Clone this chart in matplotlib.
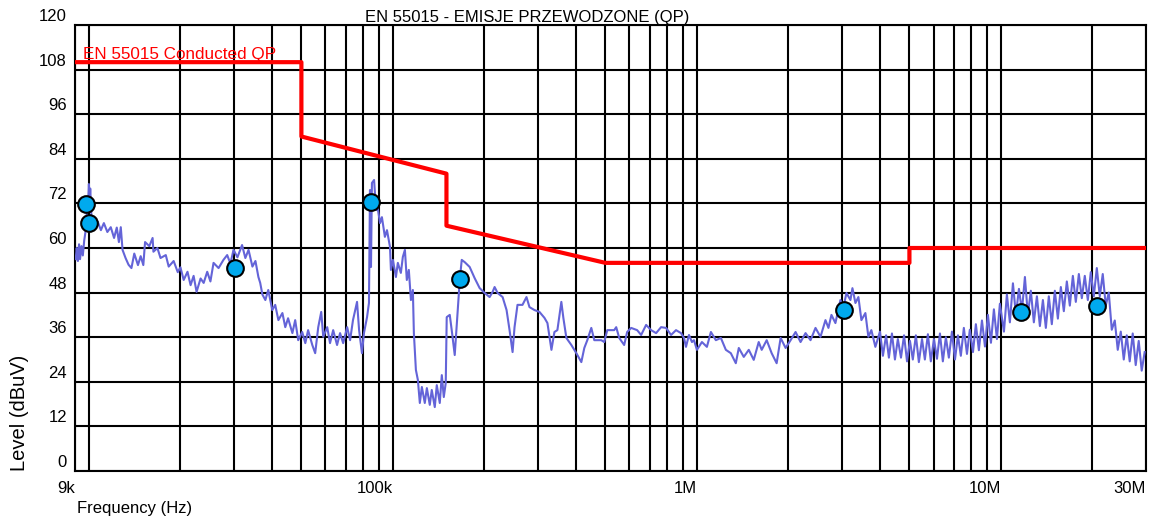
import numpy as np
import matplotlib
matplotlib.use("Agg")
import matplotlib.pyplot as plt
from matplotlib import transforms as mtransforms
from matplotlib.ticker import LogLocator, NullFormatter

plt.rcParams['font.family'] = ['Liberation Sans', 'DejaVu Sans']

# limit line EN 55015 (QP)
limit_khz = [9, 50, 50, 150, 150, 500, 500, 5000, 5000, 30000]
limit_dbuv = [110, 110, 90, 80, 66, 56, 56, 56, 60, 60]

# measured peaks (QP)
peak_khz = [9.78, 10.0, 30.2, 84.7, 165.9, 3050, 11660, 20700]
peak_dbuv = [71.8, 66.8, 54.5, 72.3, 51.7, 43.3, 42.9, 44.4]

# scan trace: (kHz, dBuV)
trace_points = [
    (9.05, 57), (9.12, 60), (9.2, 56.5), (9.28, 61), (9.35, 57), (9.45, 60.5),
    (9.55, 58), (9.65, 62), (9.75, 64.5), (9.85, 70), (9.95, 73), (10.0, 77.2),
    (10.05, 72), (10.1, 76), (10.2, 68), (10.3, 66),
    (10.5, 67.5), (10.7, 67), (10.95, 64.8), (11.2, 66.7), (11.5, 64.3), (11.8, 65.6),
    (12.1, 62.7), (12.35, 65.5), (12.55, 61.6), (12.73, 65.6), (12.9, 59.5), (13.2, 57.3),
    (13.5, 55.5), (13.8, 54.6), (14.1, 58.5), (14.5, 55.4), (14.8, 57.8), (15.1, 55.4),
    (15.3, 61.6), (15.8, 60.5), (16.2, 62.7), (16.3, 59), (16.8, 60), (17.2, 57.3),
    (17.9, 58.1), (18.3, 55), (19.0, 56.5), (19.6, 53.5), (20.0, 54.8), (20.5, 51.4),
    (21.1, 53.6), (21.6, 50), (22.1, 52.5), (22.6, 48.2), (23.3, 51.8), (23.85, 50.6),
    (24.5, 53.6), (25.1, 51), (25.7, 56), (26.7, 54.6), (27.7, 56.8), (28.5, 58.1),
    (29.2, 55.8), (29.9, 59.5), (30.8, 57.5), (31.9, 60.8), (32.7, 57.3), (33.5, 59.5),
    (34.5, 55), (35.3, 56.5), (36.1, 52.2), (36.6, 50.6), (37.2, 47.5), (38.05, 46),
    (38.9, 48.7),
    (40.1, 43.3), (41.0, 44.7), (42.0, 40.6), (43.3, 42.5), (44.25, 38.7), (45.2, 41.1),
    (46.7, 37.1), (47.7, 40.6), (48.8, 35.2), (50.3, 37.4), (51.5, 34.4), (52.6, 37.9),
    (54.3, 33.9), (55.5, 31.7), (56.8, 38.7), (58.1, 42.8), (59.0, 36.1), (60.8, 38.7),
    (62.1, 34.4), (63.6, 37.9), (65.5, 33.9), (67.0, 37.1), (68.6, 34.4), (70.7, 38.7),
    (72.3, 35.2), (73.9, 40.6), (76.2, 45.5), (77.4, 37.9), (79.1, 31.7), (80.3, 37.1),
    (82.2, 41.4), (83.4, 45.2), (84.05, 75.6), (84.7, 54.9), (85.3, 77.5), (86.7, 78.3),
    (88.0, 70.2), (88.6, 72.1), (90.7, 66.7), (92.0, 68.3), (94.1, 63), (95.6, 64.8),
    (97.8, 60.3), (98.5, 54.1), (100, 56.8),
    (102.3, 52.2), (103.8, 56), (106.2, 53.3), (107.8, 57.6), (109.5, 59.5), (111.1, 51.4),
    (112.8, 54.1), (114.6, 46), (116.3, 48.7), (117.2, 37.1), (119.0, 27.2), (120.8, 24.5),
    (122.6, 18.3), (124.5, 22.6), (127.3, 18.3), (129.3, 22.3), (132.2, 17.8), (134.2, 21.8),
    (137.3, 17.2), (139.4, 23.1), (142.6, 18.3), (144.8, 25.8), (147.0, 19.9), (149.2, 23.7),
    (150.3, 41.4), (153.8, 42), (156.1, 37.9), (159.7, 31.2), (165.9, 51.4), (168.4, 56.8),
    (172.2, 56.2), (176.2, 55.4),
    (178.8, 54.9), (185.7, 51.9), (192.9, 49.2), (200.3, 47.9), (208.0, 46.8), (212.8, 48.2),
    (216.0, 49.5), (221.0, 47.9), (229.5, 46.8), (236.5, 43.3), (241.9, 37.9), (247.5, 32),
    (251.2, 38.7), (256.9, 44.7), (266.8, 44.7), (275.0, 46.8), (281.3, 44.1), (292.2, 43.3),
    (303.4, 42.8), (315.1, 41.2), (322.3, 39.8), (332.2, 32.6), (339.8, 37.4), (347.5, 37.9),
    (358.1, 45.5), (363.6, 41.2), (372.0, 35.8), (386.3, 33.9), (401.2, 31.7), (416.6, 29.3),
    (426.1, 33.1), (435.9, 35.2), (449.3, 38.5), (459.6, 35.2), (484.5, 35.2), (495.5, 34.7),
    (507.0, 37.9), (534.4, 37.9), (542.6, 38.7), (555.1, 35.8), (576.3, 33.9), (589.5, 37.4),
    (607.6, 38.5), (635.8, 37.9), (655.3, 36.6), (680.5, 39.3), (706.8, 37.9), (734.0, 37.1),
    (762.1, 38.7), (791.4, 38.5), (822.0, 36.6), (853.5, 37.9), (886.4, 37.1), (906.6, 35.8),
    (920.4, 33.4), (941.4, 36.6), (963, 34.7), (977.7, 35.2), (1000, 32.6),
    (1038.5, 34.7), (1078.4, 33.4), (1111.5, 37.4), (1154, 35.2), (1198.7, 35.8), (1244.8, 32.6),
    (1292.6, 31.7), (1342.3, 29), (1373, 33.1), (1425.9, 30.7), (1480.7, 32.6), (1537.6, 29.9),
    (1596.7, 34.7), (1633.2, 32.6), (1696, 35.2), (1761.2, 31.7), (1828.9, 29), (1885, 35.8),
    (1957.5, 33.1), (2032.8, 35.2), (2110.9, 37.4), (2192.1, 34.7), (2276.4, 37.1), (2363.9, 35.2),
    (2454.8, 38.5), (2549.2, 36.1), (2647.2, 40.6), (2707.6, 38.5), (2769.6, 42.0), (2854.4, 39.8),
    (2964.1, 46.0), (3033.9, 44.1), (3103.3, 47.9), (3198.3, 46.0), (3247, 49.2), (3321.4, 45.2),
    (3397.3, 46.8), (3475.3, 40.6), (3581.6, 42.5), (3663.4, 36.1), (3747.6, 37.9), (3863, 33.4),
    (4000, 37.5), (4090, 31), (4190, 36.5), (4280, 30.5), (4380, 37), (4480, 30),
    (4580, 35.5), (4690, 30.5), (4800, 36.5), (4910, 29.5), (5020, 35), (5130, 30),
    (5250, 36.5), (5370, 29.3), (5500, 35.5), (5620, 30), (5750, 36.8), (5880, 29.5),
    (6020, 35.5), (6160, 30.2), (6300, 37), (6440, 29.5), (6590, 36), (6740, 30.5),
    (6900, 37.5), (7060, 30), (7220, 36.5), (7380, 31), (7550, 38.5), (7730, 31.5),
    (7900, 38), (8090, 32), (8270, 39.5), (8460, 32.5), (8660, 40.5), (8860, 33.5),
    (9060, 42), (9270, 34.5), (9480, 43.5), (9700, 35.5), (9920, 45), (10230, 37.5),
    (10460, 47.5), (10700, 40), (10950, 50.5), (11200, 42), (11460, 49), (11720, 43),
    (11990, 52.2), (12260, 42), (12540, 48.5), (12830, 40), (13130, 47), (13430, 39),
    (13740, 46), (14050, 38.5), (14370, 47), (14700, 39.5), (15040, 48.5), (15390, 41),
    (15740, 49.5), (16100, 43), (16470, 51), (16850, 44.5), (17240, 52.5), (17630, 45.5),
    (18040, 53), (18450, 46.5), (18870, 52.5), (19310, 46), (19750, 53.5), (20200, 47),
    (20670, 54.6), (21140, 47), (21620, 53), (22120, 44.5), (22630, 48), (23150, 38),
    (23680, 40.5), (24220, 32.6), (24780, 37.5), (25350, 30), (25930, 36.5), (26520, 29.5),
    (27130, 37), (27750, 28.5), (28390, 35), (29040, 27), (29700, 32),
]

xtick_hz = [9e3, 1e5, 1e6, 1e7, 3e7]
xtick_labels = ['9k', '100k', '1M', '10M', '30M']
ytick_vals = [0, 12, 24, 36, 48, 60, 72, 84, 96, 108, 120]

trace_khz, trace_dbuv = zip(*trace_points)

fig = plt.figure(figsize=(11.6, 5.21), dpi=100)
ax = fig.add_axes([75 / 1160, 1 - 471 / 521, 1071 / 1160, 446 / 521])

ax.set_xscale('log')
ax.set_xlim(9e3, 3e7)
ax.set_ylim(0, 120)

# grid: every 1-9 per decade, every 12 dB
ax.xaxis.set_major_locator(LogLocator(base=10, subs=np.arange(1, 10)))
ax.xaxis.set_major_formatter(NullFormatter())
ax.xaxis.set_minor_locator(LogLocator(base=10, subs=[]))
ax.set_yticks(ytick_vals)
ax.set_yticklabels([])
ax.tick_params(length=0)
ax.grid(True, color='black', linewidth=1.5)
ax.set_axisbelow(True)
for sp in ax.spines.values():
    sp.set_linewidth(1.5)

ax.plot(np.array(trace_khz) * 1e3, trace_dbuv, color='#6464d8', linewidth=1.5, zorder=3)
ax.plot(np.array(limit_khz) * 1e3, limit_dbuv, color='#ff0000', linewidth=3, zorder=4)
ax.plot(np.array(peak_khz) * 1e3, peak_dbuv, linestyle='none', marker='o', markersize=12,
        markerfacecolor='#00aaee', markeredgecolor='black', markeredgewidth=1.5, zorder=5)

# tick labels (offset like the original software)
ylab_tr = mtransforms.offset_copy(ax.get_yaxis_transform(), fig=fig, x=-8, y=4, units='dots')
for v in ytick_vals:
    ax.text(0, v, str(v), transform=ylab_tr, ha='right', va='baseline', fontsize=12)
xlab_tr = mtransforms.offset_copy(ax.get_xaxis_transform(), fig=fig, x=0, y=-22, units='dots')
for v, lab in zip(xtick_hz, xtick_labels):
    ax.text(v, 0, lab, transform=xlab_tr, ha='right', va='baseline', fontsize=12)

ax.text(9.55e3, 110.8, 'EN 55015 Conducted QP', color='#ff0000', fontsize=12.3,
        ha='left', va='baseline', zorder=6)

fig.text(527 / 1160, 1 - 22 / 521, 'EN 55015 - EMISJE PRZEWODZONE (QP)',
         ha='center', va='baseline', fontsize=12)
fig.text(20 / 1160, 1 - 413 / 521, 'Level (dBuV)', rotation=90,
         ha='center', va='center', fontsize=14.5)
fig.text(77 / 1160, 1 - 513 / 521, 'Frequency (Hz)', ha='left', va='baseline', fontsize=12)

fig.savefig('out.png', dpi=100)
